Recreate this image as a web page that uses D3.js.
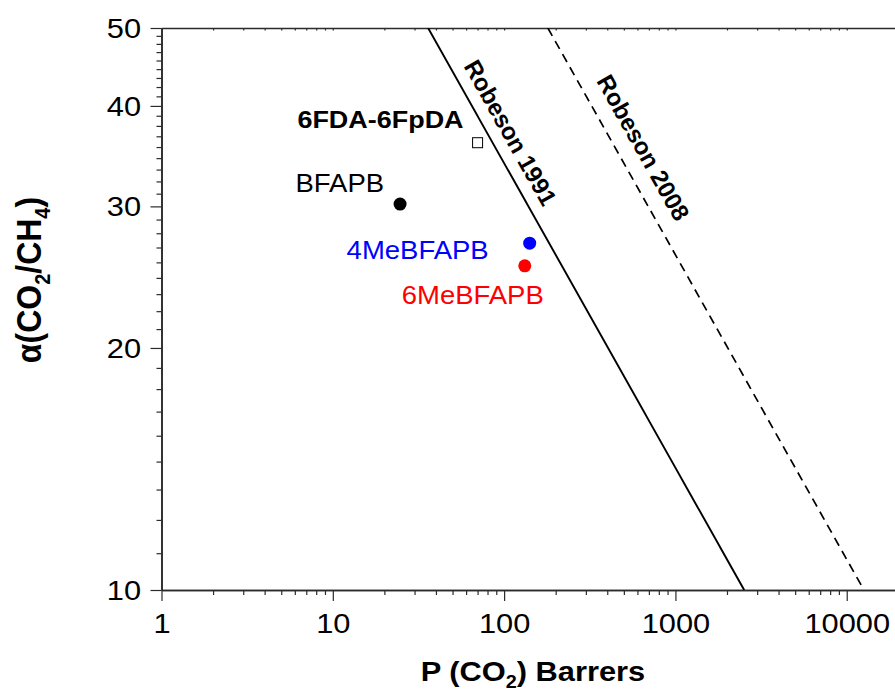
<!DOCTYPE html>
<html>
<head>
<meta charset="utf-8">
<script src="https://cdn.jsdelivr.net/npm/d3@7"></script>
<style>
  html, body { margin: 0; padding: 0; background: #fff; }
  svg { display: block; font-family: Arial, 'Liberation Sans', sans-serif; }
</style>
</head>
<body>
<svg id="chart" width="895" height="691"></svg>
<script>
// Membrane data
const pointNames = ['6FDA-6FpDA', 'BFAPB', '4MeBFAPB', '6MeBFAPB'];
const permCO2 = [70, 24.7, 141, 132];          // P(CO2), Barrer
const selectivity = [36.0, 30.2, 27.0, 25.3];  // alpha(CO2/CH4)

// Upper bound lines (end points where they meet the frame)
const boundNames = ['Robeson 1991', 'Robeson 2008'];
const boundP = [[36, 2520], [180, 12600]];
const boundAlpha = [50, 10];

// Axis ticks
const xMajor = [1, 10, 100, 1000, 10000];
const yMajor = [10, 20, 30, 40, 50];

(function () {
    const svg = d3.select('#chart');
    const left = 161.5, right = 898.3, top = 28, bottom = 590;
    const axisColor = '#2b2b2b';
    const stretch = 1.1; // text in the reference is a little wide

    const x = d3.scaleLog().domain([1, 20000]).range([left, right]);
    const y = d3.scaleLog().domain([10, 50]).range([bottom, top]);

    // minor ticks: log steps on x, ninths of each step on y
    const xMinor = [];
    [1, 10, 100, 1000, 10000].forEach(d => {
        for (let k = 2; k <= 9; k++) if (d * k <= 20000) xMinor.push(d * k);
    });
    const yMinor = [];
    for (let a = 10; a < 50; a += 10) {
        for (let k = 1; k <= 8; k++) yMinor.push(a + k * 10 / 9);
    }

    svg.append('defs').append('clipPath').attr('id', 'plot-clip')
        .append('rect')
        .attr('x', left).attr('y', top)
        .attr('width', right - left).attr('height', bottom - top);

    function styleAxis(g) {
        g.select('.domain').attr('stroke', axisColor).attr('stroke-width', 1.6);
        g.selectAll('.tick line').attr('stroke', axisColor).attr('stroke-width', 1.2);
    }

    // bottom axis
    const gx = svg.append('g').attr('transform', `translate(0,${bottom})`);
    gx.call(d3.axisBottom(x).tickValues(xMinor).tickSize(5).tickSizeOuter(0).tickFormat(''));
    const gxMaj = svg.append('g').attr('transform', `translate(0,${bottom})`);
    gxMaj.call(d3.axisBottom(x).tickValues(xMajor).tickSize(11).tickSizeOuter(0)
        .tickFormat(d3.format('d')));
    gxMaj.selectAll('.tick text')
        .attr('y', 43).attr('dy', 0)
        .attr('transform', `scale(${stretch},1)`)
        .attr('font-size', 28).attr('fill', '#000');
    styleAxis(gx); styleAxis(gxMaj);

    // top axis (small inward ticks)
    const gt = svg.append('g').attr('transform', `translate(0,${top})`);
    gt.call(d3.axisTop(x).tickValues(xMajor.concat(xMinor)).tickSize(-2.5).tickSizeOuter(0).tickFormat(''));
    styleAxis(gt);

    // left axis
    const gy = svg.append('g').attr('transform', `translate(${left},0)`);
    gy.call(d3.axisLeft(y).tickValues(yMinor).tickSize(5).tickSizeOuter(0).tickFormat(''));
    const gyMaj = svg.append('g').attr('transform', `translate(${left},0)`);
    gyMaj.call(d3.axisLeft(y).tickValues(yMajor).tickSize(11).tickSizeOuter(0)
        .tickFormat(d3.format('d')));
    gyMaj.selectAll('.tick text')
        .attr('x', -20.5 / stretch).attr('dy', '0.34em')
        .attr('transform', `scale(${stretch},1)`)
        .attr('font-size', 28).attr('fill', '#000');
    styleAxis(gy); styleAxis(gyMaj);

    // axis titles
    const xt = svg.append('text')
        .attr('transform', `translate(533,681) scale(${stretch},1)`)
        .attr('text-anchor', 'middle')
        .attr('font-size', 28).attr('font-weight', 'bold');
    xt.append('tspan').text('P (CO');
    xt.append('tspan').attr('font-size', 18).attr('dy', 7).text('2');
    xt.append('tspan').attr('dy', -7).text(') Barrers');

    const yt = svg.append('text')
        .attr('transform', `translate(41,280) rotate(-90) scale(1,${stretch})`)
        .attr('text-anchor', 'middle')
        .attr('font-size', 32).attr('font-weight', 'bold');
    yt.append('tspan').text('\u03b1(CO');
    yt.append('tspan').attr('font-size', 20).attr('dy', 8).text('2');
    yt.append('tspan').attr('dy', -8).text('/CH');
    yt.append('tspan').attr('font-size', 20).attr('dy', 8).text('4');
    yt.append('tspan').attr('dy', -8).text(')');

    // upper bound lines
    const lines = svg.append('g').attr('clip-path', 'url(#plot-clip)');
    const labelAlpha = [36.0, 34.3];
    const labelOffset = [12, 16];
    boundNames.forEach((name, i) => {
        const pts = boundP[i].map((p, j) => [x(p), y(boundAlpha[j])]);
        lines.append('path')
            .attr('d', d3.line()(pts))
            .attr('fill', 'none')
            .attr('stroke', '#000')
            .attr('stroke-width', i === 0 ? 1.9 : 1.7)
            .attr('stroke-dasharray', i === 0 ? null : '9,6');

        const dx = pts[1][0] - pts[0][0], dy = pts[1][1] - pts[0][1];
        const ang = Math.atan2(dy, dx);
        const t = (y(labelAlpha[i]) - pts[0][1]) / dy;
        const px = pts[0][0] + t * dx, py = pts[0][1] + t * dy;
        const ox = px + labelOffset[i] * Math.sin(ang);
        const oy = py - labelOffset[i] * Math.cos(ang);
        svg.append('text')
            .attr('transform', `translate(${ox},${oy}) rotate(${ang * 180 / Math.PI})`)
            .attr('text-anchor', 'middle')
            .attr('font-size', 24).attr('font-weight', 'bold')
            .text(name);
    });

    // points and labels
    const markColor = ['#fff', '#000', '#0000ff', '#ff0000'];
    const labelDx = [-14, -16, -41, 19];
    const labelDy = [-15, -12, 16, 38];
    const pts = svg.append('g');
    pointNames.forEach((name, i) => {
        const cx = x(permCO2[i]), cy = y(selectivity[i]);
        if (i === 0) {
            pts.append('rect')
                .attr('x', cx - 5).attr('y', cy - 5)
                .attr('width', 10).attr('height', 10)
                .attr('fill', '#fff').attr('stroke', '#000').attr('stroke-width', 1);
        } else {
            pts.append('circle')
                .attr('cx', cx).attr('cy', cy).attr('r', 6.5)
                .attr('fill', markColor[i]);
        }
        pts.append('text')
            .attr('transform', `translate(${cx + labelDx[i]},${cy + labelDy[i]}) scale(${stretch},1)`)
            .attr('text-anchor', 'end')
            .attr('font-size', i === 0 ? 24.5 : 25)
            .attr('font-weight', i === 0 ? 'bold' : 'normal')
            .attr('fill', i === 0 ? '#000' : markColor[i])
            .text(name);
    });
})();
</script>
</body>
</html>
